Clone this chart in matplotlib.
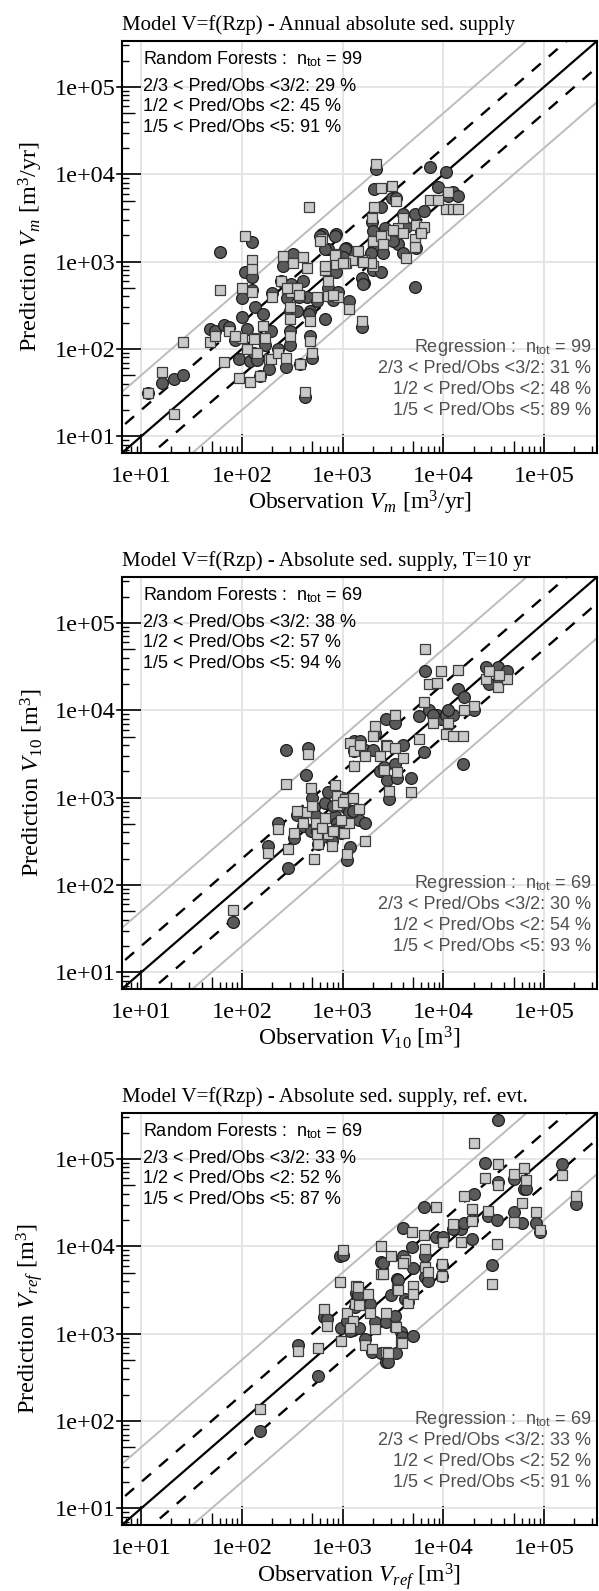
import numpy as np
import matplotlib
matplotlib.use('Agg')
import matplotlib.pyplot as plt
from matplotlib.ticker import LogLocator, FuncFormatter, NullFormatter
from matplotlib.transforms import blended_transform_factory

# --- panel 1 : annual absolute sediment supply (99 catchments) ---
obs_1 = [11.7, 16, 21, 26, 48, 54, 60, 66, 74, 107, 126, 126, 126, 135, 93, 120, 151, 186, 100, 112,
         132, 162, 195, 229, 200, 257, 245, 309, 324, 302, 302, 302, 275, 380, 407, 427, 447, 479, 479, 661,
         631, 724, 851, 851, 724, 891, 1070, 1150, 1260, 1620, 2000, 1550, 2000, 500, 2140, 7400, 10700, 2040, 2400, 3090,
         3390, 468, 1950, 2630, 3550, 4270, 5370, 5250, 6460, 1990, 2400, 3160, 3980, 5250, 6030, 1050, 832, 603, 676, 1550,
         1900, 1580, 11200, 12600, 14100, 8900, 85, 141, 170, 355, 372, 562, 794, 1000, 1410, 2510, 3980, 282, 100]
rf_1 = [31, 41, 45, 51, 170, 160, 1290, 190, 180, 760, 1660, 660, 470, 300, 76, 72, 49, 59, 234, 170,
        89, 251, 162, 100, 437, 891, 600, 550, 1230, 275, 162, 112, 63, 68, 603, 28, 389, 275, 141, 219,
        2090, 1410, 2090, 759, 501, 447, 1445, 355, 1290, 575, 794, 178, 1350, 79, 11500, 12000, 10700, 6760, 4170, 5370,
        5370, 251, 2820, 2400, 1580, 2510, 1450, 3470, 3800, 2240, 759, 1700, 1260, 513, 2240, 1410, 1950, 1950, 1410, 646,
        1260, 562, 5620, 6310, 5620, 7080, 126, 74, 112, 275, 398, 355, 363, 1120, 1120, 1260, 3550, 380, 380]
reg_1 = [31, 54, 18, 120, 120, 140, 470, 71, 160, 1950, 1050, 830, 450, 135, 47, 42, 49, 76, 135, 100,
         129, 182, 76, 91, 389, 1175, 600, 447, 977, 302, 219, 141, 79, 68, 1120, 32, 851, 209, 123, 794,
         1820, 603, 1230, 933, 407, 398, 977, 288, 1050, 1050, 891, 209, 1740, 91, 13200, 5130, 3980, 4270, 6920, 7410,
         4900, 4170, 3160, 2000, 2400, 1100, 2630, 1820, 2510, 1700, 1950, 2290, 2140, 1480, 2140, 955, 1200, 1740, 891, 1050,
         977, 1000, 6310, 3980, 3980, 5010, 141, 89, 132, 501, 417, 398, 417, 955, 1320, 1580, 3160, 501, 501]

# --- panel 2 : absolute sediment supply, T = 10 yr (69 catchments) ---
obs_2 = [81, 182, 229, 275, 288, 331, 407, 437, 457, 490, 525, 550, 575, 555, 661, 724, 776, 832, 871, 880,
         1050, 1040, 1100, 1150, 1175, 1290, 1300, 1445, 1480, 1660, 1680, 2090, 2340, 2570, 2690, 2750, 2880, 3310, 3330, 3470,
         4790, 5750, 6460, 6500, 7240, 8710, 9550, 10500, 7940, 14100, 26300, 34700, 42700, 15800, 12600, 20000, 28200, 35500, 11200, 355,
         631, 794, 955, 1000, 501, 1260, 2000, 3980, 16000]
rf_2 = [38, 282, 513, 3470, 158, 347, 479, 1820, 3720, 417, 776, 617, 295, 417, 871, 1150, 316, 617, 513, 437,
        776, 501, 195, 676, 269, 4470, 3390, 562, 4470, 513, 3550, 5500, 2000, 2240, 7940, 1580, 977, 7240, 2400, 1660,
        1660, 8510, 3310, 28200, 10000, 8910, 7940, 8910, 8910, 17400, 31600, 31600, 28200, 2400, 8910, 10000, 20000, 22400, 10000, 631,
        355, 794, 398, 1000, 1000, 708, 3550, 3980, 14100]
reg_2 = [52, 234, 437, 1445, 257, 398, 513, 676, 3160, 1290, 200, 513, 295, 380, 589, 380, 282, 1410, 1050, 832,
         955, 398, 224, 513, 4270, 2290, 3390, 741, 3980, 316, 3020, 6610, 3020, 2090, 3980, 3890, 1200, 8910, 3720, 1950,
         1150, 4680, 12300, 50100, 20000, 20400, 28200, 5370, 7080, 28800, 22900, 18600, 22900, 5010, 5010, 11200, 28200, 25100, 7080, 708,
         447, 417, 562, 891, 794, 1000, 5010, 2820, 10000]

# --- panel 3 : absolute sediment supply, reference event (69 catchments) ---
obs_3 = [151, 363, 575, 646, 692, 933, 955, 1000, 1100, 1260, 1320, 1350, 1410, 1660, 1780, 1860, 1950, 2090, 2400, 2420,
         2690, 2700, 2820, 3020, 3310, 3390, 3470, 3550, 3800, 3890, 3980, 4170, 4470, 4900, 5010, 5050, 6460, 6500, 6610, 8510,
         9770, 10000, 15100, 16200, 19100, 19300, 20000, 25700, 27500, 30200, 12600, 33900, 34700, 35000, 50100, 50500, 60300, 63100, 66100, 83200,
         91200, 151000, 209000, 1175, 1445, 2510, 4000, 9800, 7080]
rf_3 = [76, 741, 331, 1550, 1480, 7760, 1150, 7940, 1410, 1100, 2000, 2950, 2750, 871, 2140, 2190, 617, 1350, 6610, 603,
        479, 1350, 468, 2750, 1580, 603, 4270, 4070, 1050, 912, 16200, 2510, 2290, 9770, 933, 5620, 28200, 7760, 4470, 12600,
        4570, 12600, 15800, 18600, 12000, 20000, 39800, 89100, 22400, 6170, 15800, 20000, 55000, 275000, 58900, 24500, 18600, 44700, 44700, 18600,
        14500, 87100, 30200, 1070, 1175, 6460, 7760, 6170, 3980]
reg_3 = [138, 631, 676, 1905, 1230, 3890, 813, 9120, 1700, 1410, 2190, 3470, 3390, 741, 2820, 1740, 661, 1120, 10000, 4790,
         617, 1740, 603, 7760, 1230, 1200, 3240, 3160, 794, 776, 6460, 6920, 2240, 14500, 3550, 2820, 13500, 9330, 5750, 28200,
         6310, 11200, 11200, 38000, 26900, 19500, 151000, 60300, 25100, 3720, 17800, 10500, 87100, 50100, 67600, 19100, 30900, 77600, 57500, 24500,
         15500, 66100, 37200, 1175, 2140, 4790, 6460, 4570, 5010]

titles = ["Model V=f(Rzp) - Annual absolute sed. supply",
          "Model V=f(Rzp) - Absolute sed. supply, T=10 yr",
          "Model V=f(Rzp) - Absolute sed. supply, ref. evt."]
ylabels = ["Prediction $V_m$ [m$^3$/yr]", "Prediction $V_{10}$ [m$^3$]", "Prediction $V_{ref}$ [m$^3$]"]
xlabels = ["Observation $V_m$ [m$^3$/yr]", "Observation $V_{10}$ [m$^3$]", "Observation $V_{ref}$ [m$^3$]"]
n_tot = [99, 69, 69]
rf_scores = [[29, 45, 91], [38, 57, 94], [33, 52, 87]]
reg_scores = [[31, 48, 89], [30, 54, 93], [33, 52, 91]]
classes = ["2/3 < Pred/Obs <3/2", "1/2 < Pred/Obs <2", "1/5 < Pred/Obs <5"]

plt.rcParams['font.family'] = ['Liberation Serif', 'DejaVu Serif']
plt.rcParams['mathtext.fontset'] = 'custom'
plt.rcParams['mathtext.rm'] = 'Liberation Serif'
plt.rcParams['mathtext.it'] = 'Liberation Serif:italic'
plt.rcParams['mathtext.sf'] = 'Liberation Sans'

W, H = 599, 1591
fig = plt.figure(figsize=(W / 100, H / 100), dpi=100)

frame_left, frame_right = 122, 597
frame_tops = [41, 577, 1113]
frame_h = 412
lims = (10 ** 0.81, 10 ** 5.525)

data = [(obs_1, rf_1, reg_1), (obs_2, rf_2, reg_2), (obs_3, rf_3, reg_3)]
sans = ['Liberation Sans', 'DejaVu Sans']


def longer_fives(axis):
    # R-like minor ticks: the 5 x 10^k tick is drawn a bit longer
    locs = axis.get_minorticklocs()
    for loc, t in zip(locs, axis.get_minor_ticks(len(locs))):
        m = loc / 10 ** np.floor(np.log10(loc) + 1e-9)
        if abs(m - 5) < 1e-6:
            t.tick1line.set_markersize(9)


for i, (obs, rf, reg) in enumerate(data):
    top = frame_tops[i]
    ax = fig.add_axes([frame_left / W, 1 - (top + frame_h) / H,
                       (frame_right - frame_left) / W, frame_h / H])
    ax.set_xscale('log')
    ax.set_yscale('log')
    ax.set_xlim(lims)
    ax.set_ylim(lims)

    # grid at decades
    ax.grid(True, which='major', color='#e3e3e3', lw=1.3, zorder=0)
    ax.set_axisbelow(True)

    # 1:1 line and factor 2 / factor 5 bands
    xs = np.array([1.0, 1e7])
    ax.plot(xs, xs * 5, color='#bcbcbc', lw=1.4, zorder=1)
    ax.plot(xs, xs / 5, color='#bcbcbc', lw=1.4, zorder=1)
    ax.plot(xs, xs * 2, color='black', lw=1.7, ls=(0, (5, 4.5)), zorder=2)
    ax.plot(xs, xs / 2, color='black', lw=1.7, ls=(0, (5, 4.5)), zorder=2)
    ax.plot(xs, xs, color='black', lw=1.6, zorder=2)

    # random forests (circles) then regression (squares) on top
    ax.plot(obs, rf, 'o', ms=8.5, mfc='#5a5a5a', mec='#1e1e1e', mew=0.9, zorder=3)
    ax.plot(obs, reg, 's', ms=7.5, mfc='#c9c9c9', mec='#3c3c3c', mew=0.9, zorder=4)

    for sp in ax.spines.values():
        sp.set_linewidth(1.5)

    for axis in (ax.xaxis, ax.yaxis):
        axis.set_major_locator(LogLocator(base=10, numticks=10))
        axis.set_minor_locator(LogLocator(base=10, subs=np.arange(2, 10), numticks=20))
        axis.set_major_formatter(FuncFormatter(lambda v, pos: f"{v:.0e}"))
        axis.set_minor_formatter(NullFormatter())
    ax.tick_params(which='major', direction='in', length=14, width=1.2, labelsize=17.5)
    ax.tick_params(which='minor', direction='in', length=5, width=1.0)
    ax.tick_params(axis='y', which='major', pad=4.5)
    ax.tick_params(axis='x', which='major', pad=9)
    longer_fives(ax.xaxis)
    longer_fives(ax.yaxis)

    # short outward stubs on the left major ticks
    yt = [t for t in ax.get_yticks() if lims[0] <= t <= lims[1]]
    stub_tr = blended_transform_factory(ax.transAxes, ax.transData)
    for t in yt:
        ax.plot([-0.011, 0], [t, t], color='black', lw=1.2, transform=stub_tr, clip_on=False)

    ax.set_xlabel(xlabels[i], fontsize=17, labelpad=2)
    ax.set_ylabel(ylabels[i], fontsize=17.5, labelpad=7)
    ax.set_title(titles[i], fontsize=15, loc='left', pad=8)

    # scores
    ax.text(0.045, 0.955, "Random Forests :  n$_{\\mathsf{tot}}$ = %d" % n_tot[i],
            transform=ax.transAxes, family=sans, fontsize=13, va='center', color='black')
    for k, yy in enumerate([0.889, 0.840, 0.789]):
        ax.text(0.045, yy, "%s: %d %%" % (classes[k], rf_scores[i][k]),
                transform=ax.transAxes, family=sans, fontsize=13, va='center', color='black')
    ax.text(0.988, 0.255, "Regression :  n$_{\\mathsf{tot}}$ = %d" % n_tot[i],
            transform=ax.transAxes, family=sans, fontsize=13, va='center', ha='right', color='#505050')
    for k, yy in enumerate([0.206, 0.155, 0.103]):
        ax.text(0.988, yy, "%s: %d %%" % (classes[k], reg_scores[i][k]),
                transform=ax.transAxes, family=sans, fontsize=13, va='center', ha='right', color='#505050')

fig.savefig('out.png', dpi=100)
